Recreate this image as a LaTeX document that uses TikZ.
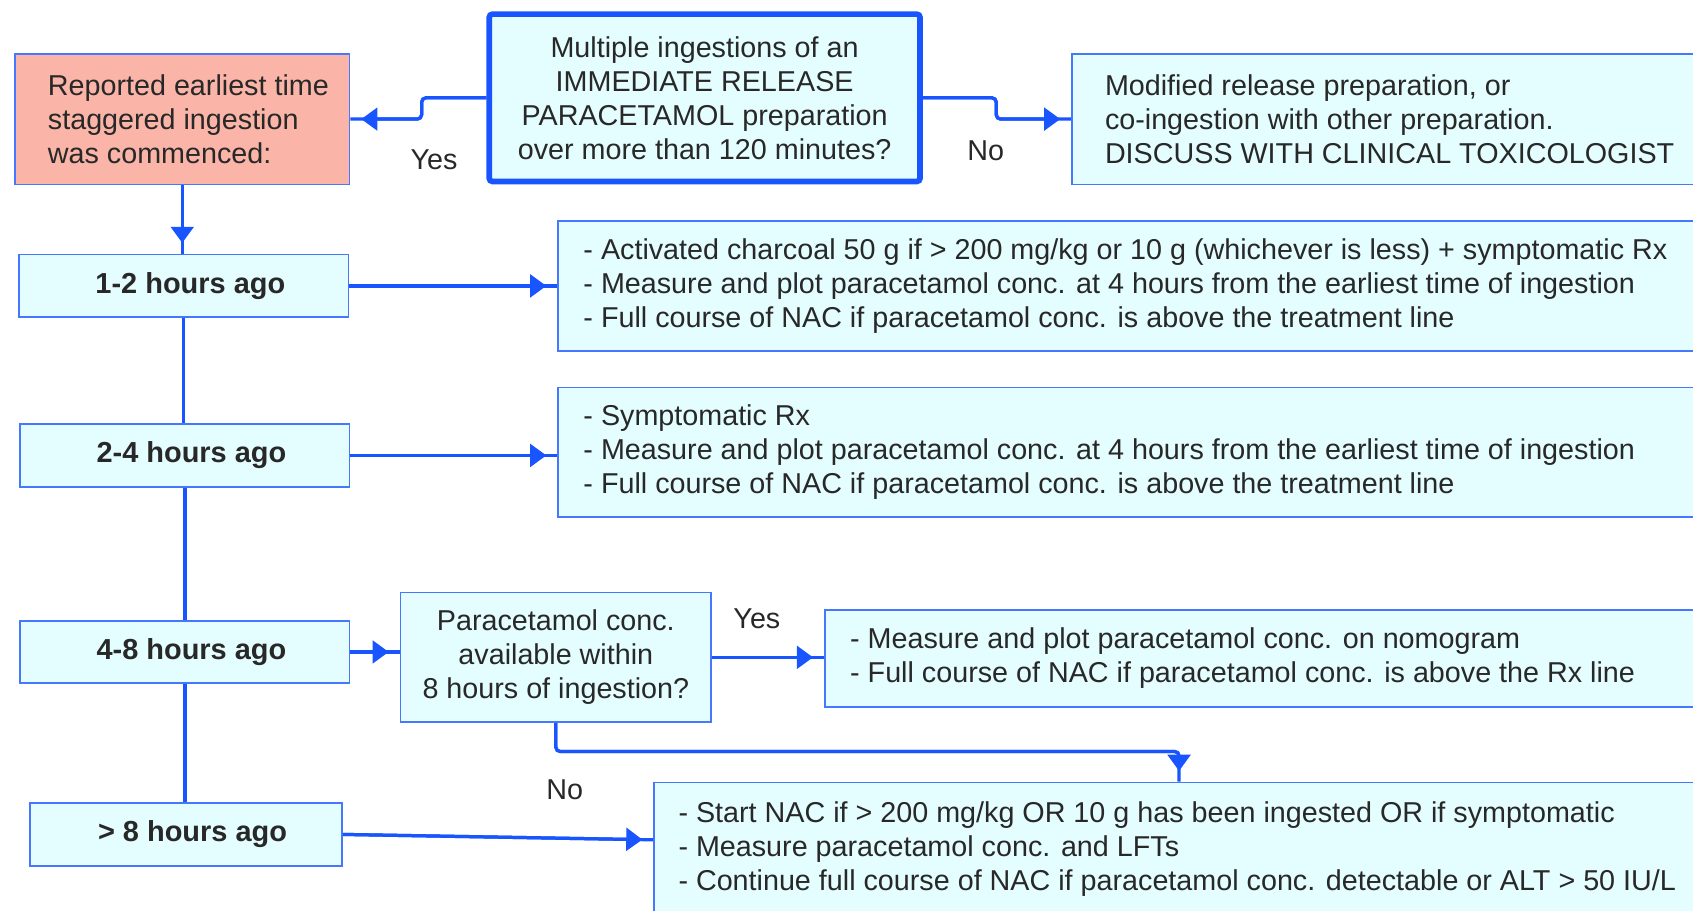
\documentclass[tikz,border=0pt]{standalone}
\usepackage{fontspec}
\setmainfont{Liberation Sans}
\usetikzlibrary{arrows.meta}
\definecolor{lineblue}{RGB}{25,85,255}
\definecolor{boxblue}{RGB}{70,120,255}
\definecolor{boxfill}{RGB}{228,253,255}
\definecolor{redfill}{RGB}{250,181,168}
\definecolor{txtgray}{RGB}{40,40,40}
\begin{document}
\begin{tikzpicture}[x=0.5pt,y=-0.5pt,
  every node/.style={text=txtgray, font=\fontsize{13.3}{15.75}\selectfont},
  box/.style={draw=boxblue, fill=boxfill, line width=0.8pt, inner sep=0pt, anchor=north west},
  hbox/.style={box, font=\fontsize{13.4}{15.75}\selectfont\bfseries, execute at begin node={\hspace*{6pt}}},
  txt/.style={anchor=west, inner sep=0pt, align=left},
  conn/.style={draw=lineblue, line width=1.5pt, rounded corners=2pt},
  arr/.style={conn, postaction={draw=lineblue, -{Triangle[length=7.5pt,width=10.5pt]}, shorten >=5pt}},
  lbl/.style={inner sep=0pt}
]
\useasboundingbox (0,0) rectangle (1568,843);
\clip (0,0) rectangle (1568,843);

% boxes
\node[box, fill=redfill, minimum width=155pt, minimum height=60.5pt] (red) at (13,49) {};
\node[txt] (redtxt) at ([xshift=15.5pt]red.west) {Reported earliest time\\staggered ingestion\\was commenced:};

\node[box, line width=2.6pt, draw=lineblue, rounded corners=1.5pt, minimum width=199.5pt, minimum height=77.5pt, align=center] (top) at (450.5,10.5)
  {Multiple ingestions of an\\IMMEDIATE RELEASE\\PARACETAMOL preparation\\over more than 120 minutes?};

\node[box, minimum width=304pt, minimum height=60.5pt] (mod) at (992,49) {};
\node[txt] (modtxt) at ([xshift=15.5pt]mod.west) {Modified release preparation, or\\co-ingestion with other preparation.\\DISCUSS WITH CLINICAL TOXICOLOGIST};

\node[hbox, minimum width=152.5pt, minimum height=29pt] (r12) at (17,235) {1-2 hours ago};
\node[box, minimum width=542pt, minimum height=60pt] (A) at (516,204) {};
\node[txt] (Atxt) at ([xshift=12pt]A.west) {- Activated charcoal 50 g if > 200 mg/kg or 10 g (whichever is less) + symptomatic Rx\\- Measure and plot paracetamol conc. at 4 hours from the earliest time of ingestion\\- Full course of NAC if paracetamol conc. is above the treatment line};

\node[hbox, minimum width=152.5pt, minimum height=29pt] (r24) at (18,392) {2-4 hours ago};
\node[box, minimum width=542pt, minimum height=60pt] (B) at (516,358) {};
\node[txt] (Btxt) at ([xshift=12pt]B.west) {- Symptomatic Rx\\- Measure and plot paracetamol conc. at 4 hours from the earliest time of ingestion\\- Full course of NAC if paracetamol conc. is above the treatment line};

\node[hbox, minimum width=152.5pt, minimum height=29pt] (r48) at (18,574) {4-8 hours ago};
\node[box, minimum width=144pt, minimum height=60pt, align=center] (Q) at (370,548) {Paracetamol conc.\\available within\\8 hours of ingestion?};
\node[box, minimum width=418.5pt, minimum height=45pt] (Y) at (763,564) {};
\node[txt] (Ytxt) at ([xshift=12pt]Y.west) {- Measure and plot paracetamol conc. on nomogram\\- Full course of NAC if paracetamol conc. is above the Rx line};

\node[hbox, minimum width=144.5pt, minimum height=29pt] (r8) at (27,743) {> 8 hours ago};
\node[box, minimum width=497.5pt, minimum height=62pt] (bot) at (605,724) {};
\node[txt] (bottxt) at ([xshift=11.5pt]bot.west) {- Start NAC if > 200 mg/kg OR 10 g has been ingested OR if symptomatic\\- Measure paracetamol conc. and LFTs\\- Continue full course of NAC if paracetamol conc. detectable or ALT > 50 IU/L};

% connectors
\draw[arr] (top.west) -- ([xshift=-30pt]top.west) |- (red.east);
\draw[arr] (top.east) -- ([xshift=34pt]top.east) |- (mod.west);
\draw[arr] (red.south) -- (red.south |- r12.north);
\draw[arr] (r12.east) -- (r12.east -| A.west);
\draw[conn] (r12.south) -- (r12.south |- r24.north);
\draw[conn] (r24.south) -- (r24.south |- r48.north);
\draw[conn] (r48.south) -- (r48.south |- r8.north);
\draw[arr] (r24.east) -- (r24.east -| B.west);
\draw[arr] (r48.east) -- (r48.east -| Q.west);
\draw[arr] (Q.east) -- (Q.east -| Y.west);
\coordinate (nojoin) at (1092,696);
\draw[arr] (Q.south) |- (nojoin) -- (nojoin |- bot.north);
\draw[arr] (r8.east) -- ([yshift=4.5pt]bot.west);

% labels
\node[lbl] (yes1) at (402,148) {Yes};
\node[lbl] (no1) at (913,140) {No};
\node[lbl] (yes2) at (701,573) {Yes};
\node[lbl] (no2) at (523,731) {No};
\end{tikzpicture}
\end{document}
